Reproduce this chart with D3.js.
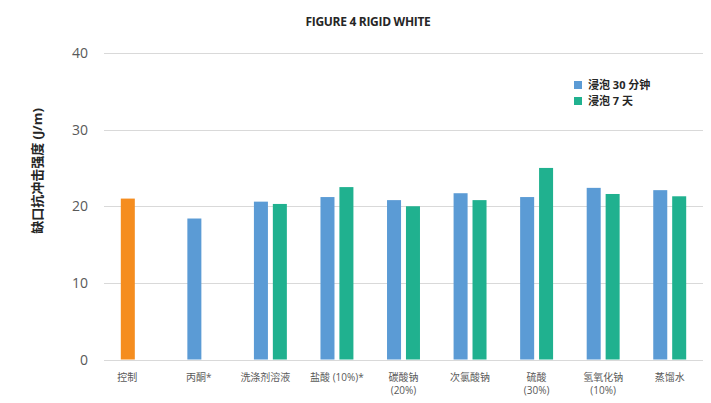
<!DOCTYPE html>
<html>
<head>
<meta charset="utf-8">
<script src="https://cdn.jsdelivr.net/npm/d3@7"></script>
<style>
  body { margin: 0; background: #fff; }
  svg { display: block; font-family: "Open Sans", "Noto Sans CJK SC", sans-serif; }
</style>
</head>
<body>
<svg id="chart" width="711" height="403"></svg>
<script>
// Notched impact strength after immersion
const categories = ["控制\u3000\u3000", "丙酮*\u3000", "洗涤剂溶液\u3000", "盐酸 (10%)*", "碳酸钠\n(20%)", "次氯酸钠", "硫酸\n(30%)", "氢氧化钠\n(10%)", "蒸馏水"];
const seriesNames = ["浸泡 30 分钟", "浸泡 7 天"];
const soak30min = [21.0, 18.4, 20.6, 21.2, 20.8, 21.7, 21.2, 22.4, 22.1];
const soak7day  = [null, null, 20.3, 22.5, 20.0, 20.8, 25.0, 21.6, 21.3];
const yTicks = [0, 10, 20, 30, 40];

const colors = { "浸泡 30 分钟": "#5B9BD5", "浸泡 7 天": "#20B18F" };
const controlColor = "#F58D1F";

const svg = d3.select("#chart");

const y = d3.scaleLinear().domain([0, 40]).range([359.5, 53]);
const x0 = d3.scaleBand().domain(categories).range([104, 703]).paddingInner(0.505).paddingOuter(0.2525);
const x1 = d3.scaleBand().domain(seriesNames).range([0, x0.bandwidth()]).paddingInner(0.26);

// Gridlines
svg.append("g")
  .selectAll("line")
  .data(yTicks)
  .join("line")
  .attr("x1", 104).attr("x2", 703)
  .attr("y1", d => Math.round(y(d)) + 0.5).attr("y2", d => Math.round(y(d)) + 0.5)
  .attr("stroke", "#d9d9d9").attr("stroke-width", 1);

// Y tick labels
svg.append("g")
  .selectAll("text")
  .data(yTicks)
  .join("text")
  .attr("x", 88).attr("y", d => y(d))
  .attr("dy", "0.36em")
  .attr("text-anchor", "end")
  .attr("font-size", 14)
  .attr("fill", "#595959")
  .text(d => d);

// Bars
const rows = categories.map((c, i) => ({ c, i, vals: [soak30min[i], soak7day[i]] }));
const groups = svg.append("g")
  .selectAll("g")
  .data(rows)
  .join("g")
  .attr("transform", d => `translate(${x0(d.c)},0)`);

groups.selectAll("rect")
  .data(d => d.vals.map((v, k) => ({ v, s: seriesNames[k], i: d.i })).filter(e => e.v != null))
  .join("rect")
  .attr("x", d => x1(d.s))
  .attr("width", x1.bandwidth())
  .attr("y", d => y(d.v))
  .attr("height", d => y(0) - y(d.v))
  .attr("fill", d => (d.i === 0 ? controlColor : colors[d.s]));

// Category labels
const catLabels = svg.append("g")
  .selectAll("text")
  .data(categories)
  .join("text")
  .attr("x", d => x0(d) + x0.bandwidth() / 2)
  .attr("y", 381)
  .attr("text-anchor", "middle")
  .attr("font-size", 10)
  .attr("fill", "#595959");
catLabels.each(function(d) {
  const lines = d.split("\n");
  const t = d3.select(this);
  lines.forEach((ln, k) => {
    t.append("tspan")
      .attr("x", x0(d) + x0.bandwidth() / 2)
      .attr("dy", k === 0 ? 0 : 13)
      .text(ln);
  });
});

// Title
svg.append("text")
  .attr("x", 368).attr("y", 25.5)
  .attr("text-anchor", "middle")
  .attr("font-size", 12)
  .attr("font-weight", "bold")
  .attr("letter-spacing", -0.3)
  .attr("fill", "#262626")
  .text("FIGURE 4 RIGID WHITE");

// Y axis title
svg.append("text")
  .attr("transform", "translate(42,171) rotate(-90)")
  .attr("text-anchor", "middle")
  .attr("font-size", 13)
  .attr("font-weight", "bold")
  .attr("fill", "#262626")
  .text("缺口抗冲击强度 (J/m)");

// Legend
const legend = svg.append("g").attr("transform", "translate(574,81)");
seriesNames.forEach((s, k) => {
  const g = legend.append("g").attr("transform", `translate(0,${k * 16})`);
  g.append("rect").attr("width", 8).attr("height", 8).attr("fill", colors[s]);
  g.append("text")
    .attr("x", 14).attr("y", 4)
    .attr("dy", "0.36em")
    .attr("font-size", 11)
    .attr("font-weight", "bold")
    .attr("fill", "#262626")
    .text(s);
});
</script>
</body>
</html>
